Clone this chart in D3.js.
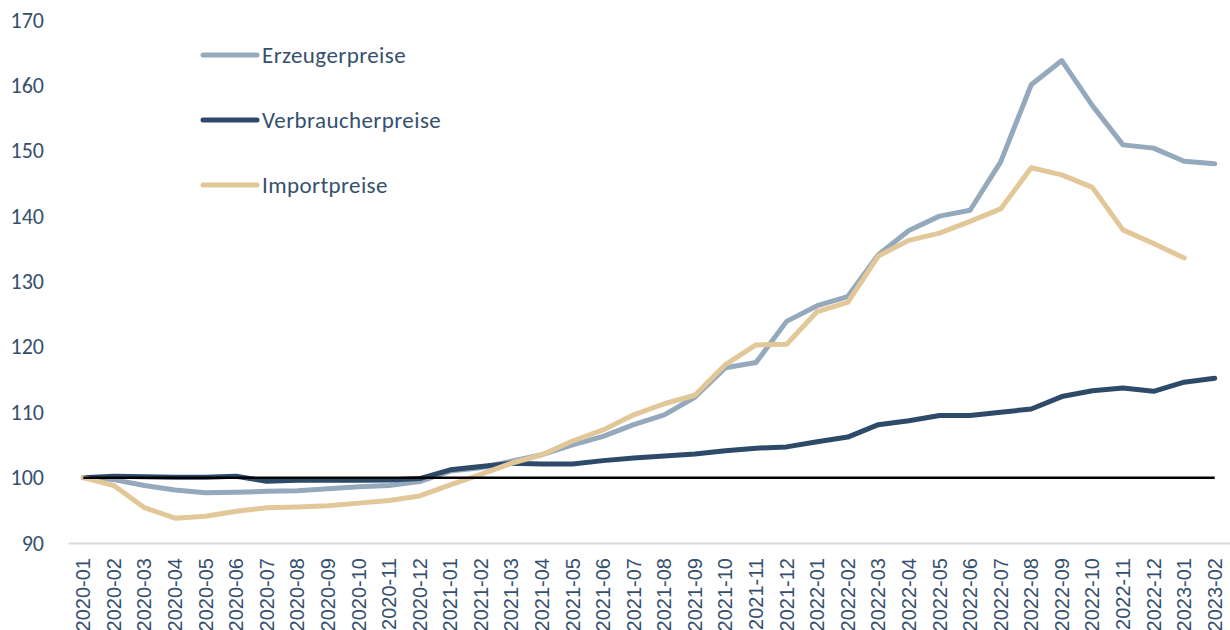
<!DOCTYPE html>
<html>
<head>
<meta charset="utf-8">
<script src="https://cdn.jsdelivr.net/npm/d3@7"></script>
<style>
  body { margin: 0; background: #fff; }
  svg { display: block; }
</style>
</head>
<body>
<div id="graph"></div>
<script>
const months = ['2020-01','2020-02','2020-03','2020-04','2020-05','2020-06','2020-07','2020-08','2020-09','2020-10','2020-11','2020-12',
    '2021-01','2021-02','2021-03','2021-04','2021-05','2021-06','2021-07','2021-08','2021-09','2021-10','2021-11','2021-12',
    '2022-01','2022-02','2022-03','2022-04','2022-05','2022-06','2022-07','2022-08','2022-09','2022-10','2022-11','2022-12',
    '2023-01','2023-02']

const erzeuger = [100, 99.7, 98.8, 98.1, 97.7, 97.75, 97.9, 98.0, 98.3, 98.6, 98.8, 99.4,
    101.0, 101.5, 102.5, 103.5, 105.0, 106.3, 108.1, 109.6, 112.3, 116.8, 117.6, 123.9,
    126.3, 127.7, 134.1, 137.8, 140.0, 140.9, 148.3, 160.1, 163.8, 156.9, 150.9, 150.4,
    148.4, 148.0]

const verbraucher = [100, 100.2, 100.15, 100.05, 100.05, 100.2, 99.45, 99.6, 99.6, 99.6, 99.65, 99.85,
    101.2, 101.7, 102.2, 102.1, 102.1, 102.6, 103.0, 103.3, 103.6, 104.1, 104.5, 104.7,
    105.5, 106.2, 108.1, 108.7, 109.5, 109.5, 110.0, 110.5, 112.4, 113.3, 113.7, 113.2,
    114.6, 115.2]

const importp = [100, 98.8, 95.4, 93.8, 94.1, 94.85, 95.4, 95.5, 95.7, 96.1, 96.5, 97.2,
    98.9, 100.5, 102.2, 103.5, 105.6, 107.3, 109.6, 111.3, 112.6, 117.3, 120.3, 120.4,
    125.4, 126.8, 133.9, 136.3, 137.4, 139.2, 141.1, 147.4, 146.3, 144.4, 137.9, 135.8,
    133.6, null]

const yTicks = [90, 100, 110, 120, 130, 140, 150, 160, 170]

const series = [
    { name: 'Erzeugerpreise', values: erzeuger, color: '#94a9bc' },
    { name: 'Verbraucherpreise', values: verbraucher, color: '#2d4a68' },
    { name: 'Importpreise', values: importp, color: '#e2c799' }
]

const textColor = '#35506e'

const margin = { top: 20, right: 0, bottom: 87, left: 68 }
const width = 1230 - margin.left - margin.right
const height = 630 - margin.top - margin.bottom

const xScale = d3.scaleBand()
    .domain(months)
    .range([0, width])

const yScale = d3.scaleLinear()
    .domain([90, 170])
    .range([height, 0])

const line = d3.line()
    .defined(d => d != null)
    .x((d, i) => xScale(months[i]) + xScale.bandwidth() / 2)
    .y(d => yScale(d))

const svg = d3.select('div#graph')
    .append('svg')
        .attr('width', 1230)
        .attr('height', 630)
    .append('g')
        .attr('transform', `translate(${margin.left},${margin.top})`)

// y axis labels only, no line
const yAxis = svg.append('g')
    .call(d3.axisLeft(yScale).tickValues(yTicks).tickSize(0).tickPadding(24))
yAxis.select('.domain').remove()
yAxis.selectAll('text')
    .attr('fill', textColor)
    .style('font-family', 'Carlito, Calibri, Lato, sans-serif')
    .style('font-size', '22px')

// x axis
const xAxis = svg.append('g')
    .attr('transform', `translate(0,${height})`)
    .call(d3.axisBottom(xScale).tickSize(0).tickSizeOuter(0))
xAxis.select('.domain')
    .attr('stroke', '#d9d9d9')
    .attr('stroke-width', 2)
xAxis.selectAll('text')
    .attr('fill', textColor)
    .style('font-family', '"Liberation Sans", Arial, sans-serif')
    .style('font-size', '20px')
    .attr('text-anchor', 'end')
    .attr('transform', 'rotate(-90)')
    .attr('x', -15)
    .attr('y', 0)
    .attr('dy', '0.35em')

const x0 = xScale(months[0]) + xScale.bandwidth() / 2
const x1 = xScale(months[months.length - 1]) + xScale.bandwidth() / 2

const lines = svg.append('g').attr('class', 'lines')

lines.selectAll('.line')
    .data(series).enter()
    .append('path')
        .attr('class', 'line')
        .attr('d', d => line(d.values))
        .attr('fill', 'none')
        .attr('stroke', d => d.color)
        .attr('stroke-width', 5)
        .attr('stroke-linejoin', 'round')
        .attr('stroke-linecap', 'round')

// reference line at 100, on top of the series
svg.append('line')
    .attr('x1', x0)
    .attr('x2', x1)
    .attr('y1', yScale(100))
    .attr('y2', yScale(100))
    .attr('stroke', '#000')
    .attr('stroke-width', 2.5)

// legend
const legend = svg.append('g')
    .attr('transform', `translate(${203 - margin.left},${55 - margin.top})`)

const items = legend.selectAll('.item')
    .data(series).enter()
    .append('g')
        .attr('class', 'item')
        .attr('transform', (d, i) => `translate(0,${i * 65})`)

items.append('line')
    .attr('x1', 0)
    .attr('x2', 54)
    .attr('stroke', d => d.color)
    .attr('stroke-width', 5)
    .attr('stroke-linecap', 'round')

items.append('text')
    .attr('x', 59)
    .attr('dy', '0.35em')
    .attr('fill', textColor)
    .style('font-family', 'Carlito, Calibri, Lato, sans-serif')
    .style('font-size', '23px')
    .style('letter-spacing', '0.4px')
    .text(d => d.name)
</script>
</body>
</html>
